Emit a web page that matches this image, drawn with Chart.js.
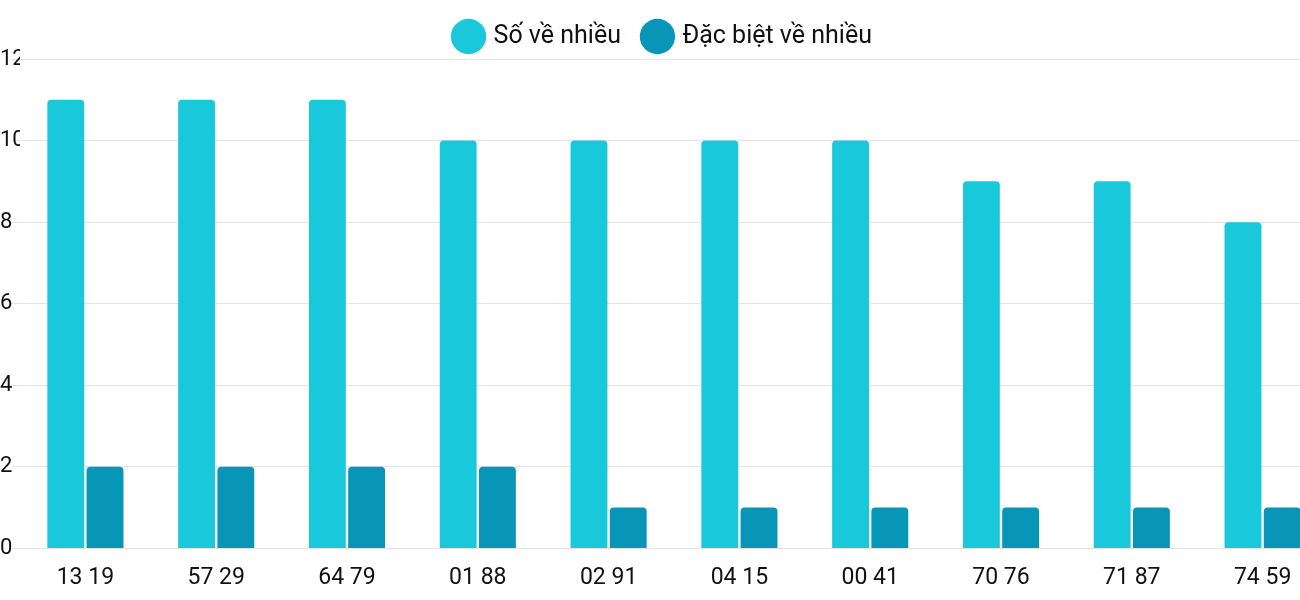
<!DOCTYPE html>
<html>
<head>
<meta charset="utf-8">
<script src="https://cdn.jsdelivr.net/npm/chart.js@4"></script>
<style>
  html, body { margin: 0; padding: 0; overflow: hidden; background: #fff; }
  #wrap { width: 1328px; height: 600px; }
</style>
</head>
<body>
<div id="wrap"><canvas id="chart"></canvas></div>
<script>
const labels = ["13 19", "57 29", "64 79", "01 88", "02 91", "04 15", "00 41", "70 76", "71 87", "74 59"];
const soVeNhieu = [11, 11, 11, 10, 10, 10, 10, 9, 9, 8];
const dacBiet = [2, 2, 2, 2, 1, 1, 1, 1, 1, 1];

window.onload = () => {
  Chart.defaults.font.family = "Roboto";
  Chart.defaults.color = "#111";
  let ctx = document.getElementById("chart").getContext('2d');

  new Chart(ctx, {
    type: 'bar',
    data: {
      labels: labels,
      datasets: [{
        label: 'Số về nhiều',
        data: soVeNhieu,
        backgroundColor: '#1ac8db',
        borderRadius: { topLeft: 4, topRight: 4 },
        borderSkipped: 'bottom'
      }, {
        label: 'Đặc biệt về nhiều',
        data: dacBiet,
        backgroundColor: '#0795b8',
        borderRadius: { topLeft: 4, topRight: 4 },
        borderSkipped: 'bottom'
      }]
    },
    options: {
      responsive: true,
      maintainAspectRatio: false,
      animation: false,
      categoryPercentage: 0.6,
      barPercentage: 0.94,
      layout: { padding: { left: 0, right: 0, top: 0 } },
      plugins: {
        legend: {
          position: 'top',
          labels: {
            usePointStyle: true,
            pointStyle: 'circle',
            boxWidth: 26,
            boxHeight: 26,
            padding: 24,
            font: { size: 25 }
          }
        },
        tooltip: { enabled: false }
      },
      scales: {
        x: {
          grid: { display: false },
          border: { display: false },
          ticks: { font: { size: 23 }, color: '#111', padding: 8 }
        },
        y: {
          min: 0,
          max: 12,
          afterFit: (axis) => { axis.width = 20; },
          ticks: { stepSize: 2, crossAlign: 'far', padding: 0, font: { size: 22 }, color: '#111' },
          grid: { color: '#e4e4e4' },
          border: { display: false }
        }
      }
    }
  });
};
</script>
</body>
</html>
